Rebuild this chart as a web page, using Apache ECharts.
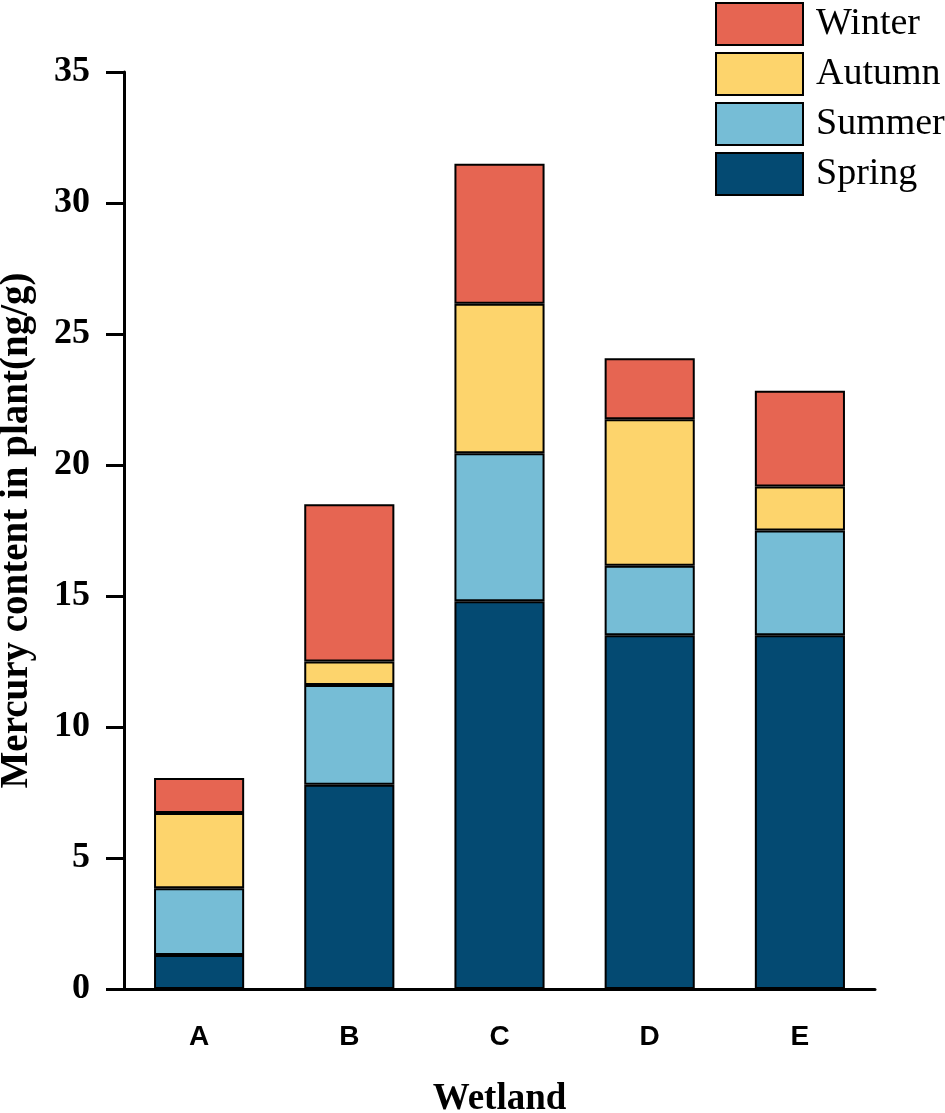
<!DOCTYPE html>
<html lang="en">
<head>
<meta charset="UTF-8">
<title>Mercury content in plant</title>
<script src="https://cdn.jsdelivr.net/npm/echarts@6/dist/echarts.min.js"></script>
<style>
  html, body { margin: 0; padding: 0; background: #fff; }
</style>
</head>
<body>
<div id="main" style="width: 945px;height:1113px;"></div>
<script>
  const wetlands = ['A', 'B', 'C', 'D', 'E'];
  const spring = [1.3, 7.8, 14.8, 13.5, 13.5];
  const summer = [2.55, 3.8, 5.65, 2.65, 4.0];
  const autumn = [2.87, 0.9, 5.7, 5.6, 1.68];
  const winter = [1.33, 6.0, 5.35, 2.32, 3.65];
  const yTicks = [0, 5, 10, 15, 20, 25, 30, 35];

  const colors = {
    Spring: '#044a72',
    Summer: '#76bdd6',
    Autumn: '#fdd46c',
    Winter: '#e66552'
  };
  const serif = '"Liberation Serif", "Times New Roman", serif';
  const sans = '"Liberation Sans", Arial, sans-serif';

  const myChart = echarts.init(document.getElementById('main'));

  function seasonSeries(name, data) {
    return {
      name: name,
      type: 'bar',
      stack: 'total',
      barWidth: '60%',
      data: data,
      itemStyle: {
        color: colors[name],
        borderColor: '#000',
        borderWidth: 2
      }
    };
  }

  const option = {
    animation: false,
    backgroundColor: '#fff',
    grid: {
      left: 124,
      right: 70,
      top: 72,
      bottom: 124,
      outerBoundsMode: 'none'
    },
    legend: {
      orient: 'vertical',
      left: 710,
      top: -3,
      itemWidth: 87,
      itemHeight: 42,
      itemGap: 6,
      icon: 'rect',
      data: ['Winter', 'Autumn', 'Summer', 'Spring'],
      itemStyle: { borderColor: '#000', borderWidth: 2 },
      textStyle: {
        fontFamily: serif,
        fontSize: 38,
        lineHeight: 42,
        color: '#000',
        padding: [0, 0, 0, 8]
      }
    },
    xAxis: {
      type: 'category',
      data: wetlands,
      name: 'Wetland',
      nameLocation: 'middle',
      nameGap: 92,
      nameTextStyle: {
        fontFamily: serif,
        fontWeight: 'bold',
        fontSize: 37,
        color: '#000'
      },
      axisLine: { lineStyle: { color: '#000', width: 3 } },
      axisTick: {
        alignWithLabel: true,
        length: 18,
        lineStyle: { color: '#000', width: 3 }
      },
      axisLabel: {
        margin: 34,
        fontFamily: sans,
        fontWeight: 'bold',
        fontSize: 28,
        color: '#000'
      }
    },
    yAxis: {
      type: 'value',
      min: yTicks[0],
      max: yTicks[yTicks.length - 1],
      interval: 5,
      name: 'Mercury content in plant(ng/g)',
      nameLocation: 'middle',
      nameGap: 88,
      nameTextStyle: {
        fontFamily: serif,
        fontWeight: 'bold',
        fontSize: 39,
        color: '#000'
      },
      splitLine: { show: false },
      axisLine: { show: true, lineStyle: { color: '#000', width: 3 } },
      axisTick: {
        show: true,
        length: 18,
        lineStyle: { color: '#000', width: 3 }
      },
      axisLabel: {
        margin: 34,
        fontFamily: serif,
        fontWeight: 'bold',
        fontSize: 36,
        color: '#000'
      }
    },
    series: [
      seasonSeries('Spring', spring),
      seasonSeries('Summer', summer),
      seasonSeries('Autumn', autumn),
      seasonSeries('Winter', winter)
    ]
  };
  myChart.setOption(option);
</script>
</body>
</html>
